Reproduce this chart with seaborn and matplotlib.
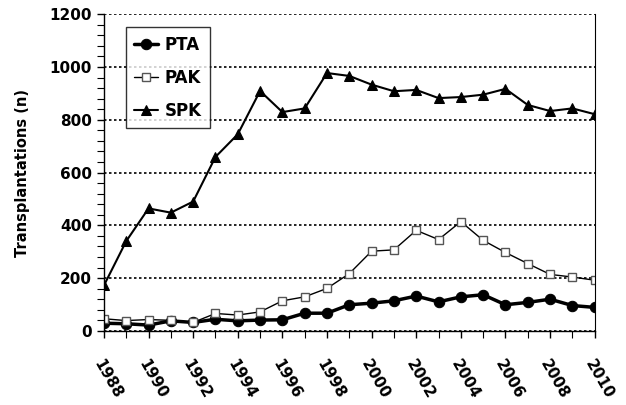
import numpy as np
import pandas as pd
import matplotlib
matplotlib.use("Agg")
import matplotlib.pyplot as plt
import seaborn as sns
from matplotlib.ticker import MultipleLocator

# Values
years = list(range(1988, 2011))
pta = [29, 27, 22, 38, 32, 44, 38, 41, 42, 67, 67, 99, 105, 114, 132, 110, 129, 137, 99, 108, 120, 96, 89]
pak = [46, 39, 43, 40, 32, 66, 60, 72, 114, 129, 161, 217, 302, 307, 381, 346, 414, 343, 297, 255, 214, 204, 192]
spk = [172, 340, 464, 448, 490, 659, 745, 909, 829, 843, 977, 966, 933, 908, 913, 882, 886, 895, 917, 856, 833, 843, 821]

df = pd.DataFrame({"year": years, "PTA": pta, "PAK": pak, "SPK": spk})

sns.set_style("white")
plt.rcParams["font.family"] = ["DejaVu Sans"]
plt.rcParams["text.color"] = "black"
plt.rcParams["axes.labelcolor"] = "black"
plt.rcParams["xtick.color"] = "black"
plt.rcParams["ytick.color"] = "black"

fig = plt.figure(figsize=(6.26, 4.05), dpi=100)
ax = fig.add_axes([0.166, 0.183, 0.784, 0.782])

sns.lineplot(data=df, x="year", y="PTA", ax=ax, color="black", lw=2.5,
             marker="o", markersize=7.5, markeredgecolor="black", label="PTA")
sns.lineplot(data=df, x="year", y="PAK", ax=ax, color="black", lw=1,
             marker="s", markersize=5.5, markerfacecolor="white",
             markeredgecolor="#555555", markeredgewidth=1, label="PAK")
sns.lineplot(data=df, x="year", y="SPK", ax=ax, color="black", lw=1.5,
             marker="^", markersize=7, markeredgecolor="black", label="SPK")

ax.set_xlim(1988, 2010)
ax.set_ylim(0, 1200)
ax.yaxis.set_major_locator(MultipleLocator(200))
ax.yaxis.set_minor_locator(MultipleLocator(40))
ax.xaxis.set_major_locator(MultipleLocator(2))
ax.xaxis.set_minor_locator(MultipleLocator(1))
ax.grid(axis="y", which="major", color="black", linestyle=(0, (1.5, 1.5)), lw=1.2)
ax.set_axisbelow(True)

ax.spines["top"].set_visible(False)
for s in ["left", "right", "bottom"]:
    ax.spines[s].set_color("black")
    ax.spines[s].set_linewidth(1)
ax.spines["right"].set_linewidth(0.8)

ax.tick_params(axis="both", which="major", direction="out", length=5, width=1,
               color="black", labelcolor="black", labelsize=11, bottom=True, left=True)
ax.tick_params(axis="both", which="minor", direction="out", length=5, width=0.8,
               color="black", bottom=True, left=True)

for lbl in ax.get_yticklabels():
    lbl.set_fontweight("bold")
ax.set_xticks(years[::2])
ax.set_xticklabels([str(y) for y in years[::2]], rotation=-60, ha="left",
                   rotation_mode="anchor", fontweight="bold", fontsize=11)
ax.tick_params(axis="x", pad=14)

ax.set_xlabel("")
ax.set_ylabel("Transplantations (n)", fontsize=10.5, fontweight="bold",
              labelpad=14, color="black")

leg = ax.legend(loc="upper left", bbox_to_anchor=(0.028, 0.985), frameon=True,
                fancybox=False, edgecolor="black",
                prop={"weight": "bold", "size": 12}, handlelength=1.4,
                labelspacing=0.9, borderpad=0.5, handletextpad=0.4)
leg.get_frame().set_linewidth(1)
for t in leg.get_texts():
    t.set_color("black")

fig.savefig("out.png", dpi=100)
